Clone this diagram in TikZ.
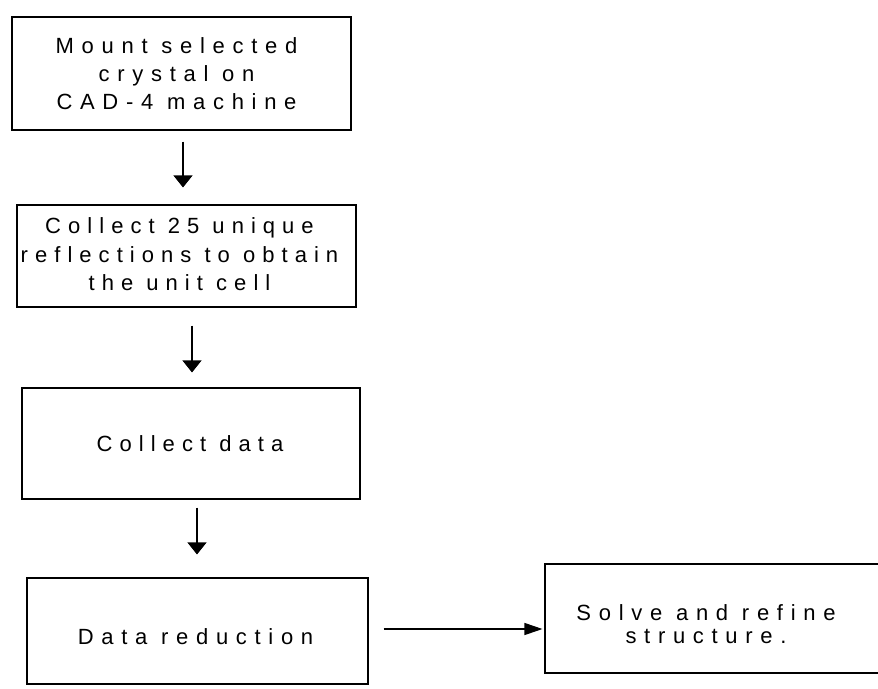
\documentclass[tikz,border=0pt]{standalone}
\usepackage{fontspec}
\setmainfont{Liberation Sans}
\newfontfamily\widefont[LetterSpace=35]{Liberation Sans}
\newfontfamily\widefontb[LetterSpace=32]{Liberation Sans}
\usetikzlibrary{arrows.meta}
\begin{document}
\begin{tikzpicture}[x=1pt,y=-1pt,
  box/.style={draw, line width=1.1pt, inner sep=0pt},
  txt/.style={inner sep=0pt, align=center, font=\widefont\fontsize{22}{28}\selectfont},
  conn/.style={line width=1.1pt, -{Triangle[width=19pt,length=12pt]}},
  hconn/.style={line width=1.1pt, -{Triangle[width=12pt,length=18pt]}}]
\clip (0,0) rectangle (878,688);
\fill[white] (0,0) rectangle (878,688);
\node[box, minimum width=339pt, minimum height=113pt] (b1) at (181.5,73.5) {};
\node[txt] (t1) at ([xshift=-5pt]b1.center) {Mount selected\\crystal on\\CAD-4 machine};
\node[box, minimum width=339pt, minimum height=102pt] (b2) at (186.5,256) {};
\node[txt, font=\widefontb\fontsize{22}{28.5}\selectfont] (t2) at ([xshift=-7pt,yshift=1.5pt]b2.center)
  {Collect 25 unique\\reflections to obtain\\the unit cell};
\node[box, minimum width=338pt, minimum height=111pt] (b3) at (191,443.5) {};
\node[txt, font=\widefontb\fontsize{22}{28}\selectfont] (t3) at ([xshift=-1pt]b3.center) {Collect data};
\node[box, minimum width=341pt, minimum height=106pt] (b4) at (197.5,631) {};
\node[txt] (t4) at ([xshift=-2pt,yshift=-6pt]b4.center) {Data reduction};
\node[box, minimum width=355pt, minimum height=109pt] (b5) at (722.5,618.5) {};
\node[txt, font=\widefont\fontsize{22}{23}\selectfont] (t5) at (706,624)
  {Solve and refine\\structure.};
\draw[conn] ([xshift=1.5pt,yshift=-11pt]b1.south) -- ([xshift=-3.5pt,yshift=17pt]b2.north);
\draw[conn] ([xshift=5.5pt,yshift=-18pt]b2.south) -- ([xshift=1pt,yshift=15pt]b3.north);
\draw[conn] ([xshift=6pt,yshift=-8pt]b3.south) -- ([xshift=-0.5pt,yshift=23pt]b4.north);
\draw[hconn] ([xshift=15pt,yshift=2pt]b4.east) -- ([xshift=-2pt,yshift=-10.5pt]b5.west);
\end{tikzpicture}
\end{document}
